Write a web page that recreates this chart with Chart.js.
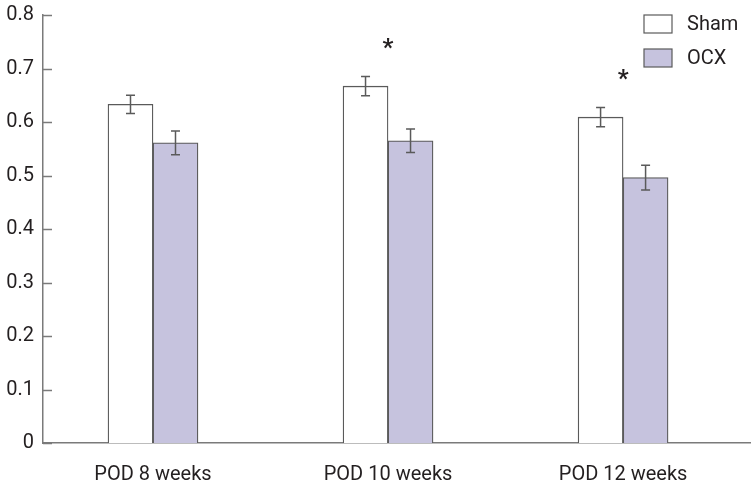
<!DOCTYPE html>
<html>
<head>
<meta charset="utf-8">
<script src="https://cdn.jsdelivr.net/npm/chart.js@4.4.1/dist/chart.umd.min.js"></script>
<style>
    html, body { margin: 0; padding: 0; background: #fff; }
    #wrap { width: 752px; height: 488px; position: relative; }
</style>
</head>
<body>
<div id="wrap"><canvas id="podChart"></canvas></div>
<script>
// ============================================================================
// Data
// ============================================================================
const categories = ['POD 8 weeks', 'POD 10 weeks', 'POD 12 weeks'];
const seriesNames = ['Sham', 'OCX'];
const shamMeans = [0.633, 0.667, 0.609];
const shamErrors = [0.017, 0.018, 0.018];
const ocxMeans = [0.561, 0.565, 0.496];
const ocxErrors = [0.022, 0.022, 0.023];
const sigMarks = ['', '*', '*'];
const yTicks = [0, 0.1, 0.2, 0.3, 0.4, 0.5, 0.6, 0.7, 0.8];

// Colors
const colors = {
    sham: '#ffffff',
    ocx: '#c6c3de',
    edge: '#5a5a5a',
    axis: '#7a7a7a',
    text: '#231f20'
};
const FONT = "Roboto, 'Liberation Sans', sans-serif";
const FONT_SIZE = 20;

// Error bars drawn on top of each bar
const errorBarPlugin = {
    id: 'errorBars',
    afterDatasetsDraw(chart) {
        const ctx = chart.ctx;
        const yScale = chart.scales.y;
        ctx.save();
        ctx.strokeStyle = colors.edge;
        ctx.lineWidth = 1.5;
        chart.data.datasets.forEach((ds, di) => {
            const meta = chart.getDatasetMeta(di);
            meta.data.forEach((bar, i) => {
                const m = ds.data[i].y;
                const e = ds.errors[i];
                const top = yScale.getPixelForValue(m + e);
                const bot = yScale.getPixelForValue(m - e);
                const cap = 4.5;
                ctx.beginPath();
                ctx.moveTo(bar.x, top); ctx.lineTo(bar.x, bot);
                ctx.moveTo(bar.x - cap, top); ctx.lineTo(bar.x + cap, top);
                ctx.moveTo(bar.x - cap, bot); ctx.lineTo(bar.x + cap, bot);
                ctx.stroke();
            });
        });
        ctx.restore();
    }
};

// Significance asterisks above each group
const sigPlugin = {
    id: 'sigMarks',
    afterDatasetsDraw(chart) {
        const ctx = chart.ctx;
        const xScale = chart.scales.x;
        const yScale = chart.scales.y;
        ctx.save();
        ctx.fillStyle = colors.text;
        ctx.font = `bold 24px ${FONT}`;
        ctx.textAlign = 'center';
        ctx.textBaseline = 'middle';
        sigMarks.forEach((mark, i) => {
            if (!mark) return;
            const y = yScale.getPixelForValue(shamMeans[i] + shamErrors[i]) - 28;
            ctx.fillText(mark, xScale.getPixelForValue(i), y);
        });
        ctx.restore();
    }
};

// Inward tick marks on the y axis
const yTickPlugin = {
    id: 'yInnerTicks',
    afterDraw(chart) {
        const ctx = chart.ctx;
        const yScale = chart.scales.y;
        const left = chart.chartArea.left;
        ctx.save();
        ctx.strokeStyle = colors.axis;
        ctx.lineWidth = 1.5;
        yTicks.forEach(v => {
            const y = Math.round(yScale.getPixelForValue(v)) + 0.5;
            ctx.beginPath();
            ctx.moveTo(left, y);
            ctx.lineTo(left + 9, y);
            ctx.stroke();
        });
        ctx.restore();
    }
};

// Legend in the upper right corner of the plot
const legendPlugin = {
    id: 'boxLegend',
    afterDraw(chart) {
        const ctx = chart.ctx;
        const area = chart.chartArea;
        const x = area.right - 106;
        ctx.save();
        ctx.font = `${FONT_SIZE}px ${FONT}`;
        ctx.textBaseline = 'middle';
        chart.data.datasets.forEach((ds, i) => {
            const y = area.top + i * 34;
            ctx.fillStyle = ds.backgroundColor;
            ctx.fillRect(x, y, 28, 18);
            ctx.strokeStyle = colors.edge;
            ctx.lineWidth = 1.2;
            ctx.strokeRect(x, y, 28, 18);
            ctx.fillStyle = colors.text;
            ctx.fillText(ds.label, x + 43, y + 10);
        });
        ctx.restore();
    }
};

const ctx = document.getElementById('podChart').getContext('2d');
Chart.defaults.font.family = FONT;
Chart.defaults.color = colors.text;

new Chart(ctx, {
    type: 'bar',
    data: {
        datasets: [
            {
                label: seriesNames[0],
                data: shamMeans.map((v, i) => ({ x: i, y: v })),
                errors: shamErrors,
                backgroundColor: colors.sham,
                borderColor: colors.edge,
                borderWidth: 1.3,
                barThickness: 45
            },
            {
                label: seriesNames[1],
                data: ocxMeans.map((v, i) => ({ x: i, y: v })),
                errors: ocxErrors,
                backgroundColor: colors.ocx,
                borderColor: colors.edge,
                borderWidth: 1.3,
                barThickness: 45
            }
        ]
    },
    options: {
        responsive: true,
        maintainAspectRatio: false,
        animation: false,
        layout: { padding: { top: 0, right: 2, left: 0, bottom: 0 } },
        plugins: {
            legend: { display: false },
            tooltip: { enabled: false }
        },
        scales: {
            x: {
                type: 'linear',
                offset: false,
                min: -0.468,
                max: 2.54,
                grid: { display: false, drawTicks: false },
                border: { display: true, color: colors.axis, width: 1.5 },
                afterBuildTicks: (scale) => {
                    scale.ticks = categories.map((c, i) => ({ value: i }));
                },
                afterFit: (scale) => { scale.height = 45; },
                ticks: {
                    padding: 20,
                    font: { size: FONT_SIZE },
                    color: colors.text,
                    callback: (v) => categories[v]
                }
            },
            y: {
                min: 0,
                max: 0.8,
                afterBuildTicks: (scale) => {
                    scale.ticks = yTicks.map(v => ({ value: v }));
                },
                afterFit: (scale) => {
                    scale.width = 43;
                    scale.paddingTop = 15;
                },
                grid: { display: false, drawTicks: false },
                border: { display: true, color: colors.axis, width: 1.5 },
                ticks: {
                    padding: 9,
                    font: { size: FONT_SIZE },
                    color: colors.text,
                    callback: (v) => v === 0 ? '0' : v.toFixed(1)
                }
            }
        }
    },
    plugins: [errorBarPlugin, sigPlugin, yTickPlugin, legendPlugin]
});
</script>
</body>
</html>
